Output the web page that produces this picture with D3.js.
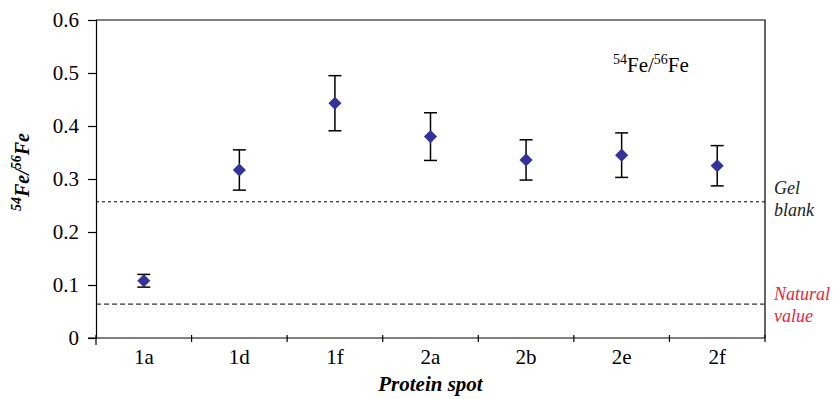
<!DOCTYPE html>
<html>
<head>
<meta charset="utf-8">
<script src="https://cdn.jsdelivr.net/npm/d3@7"></script>
<style>
  html, body { margin: 0; padding: 0; background: #fff; }
  svg { display: block; }
  text { font-family: "Liberation Serif", "Times New Roman", serif; }
</style>
</head>
<body>
<svg id="chart" width="833" height="399"></svg>
<script>
// Protein spots and their 54Fe/56Fe ratios with error half-widths
const spots = ["1a", "1d", "1f", "2a", "2b", "2e", "2f"];
const ratios = [0.108, 0.317, 0.443, 0.380, 0.336, 0.345, 0.325];
const errors = [0.012, 0.038, 0.052, 0.045, 0.038, 0.042, 0.038];
const yTicks = [0, 0.1, 0.2, 0.3, 0.4, 0.5, 0.6];
// Reference levels
const gelBlank = 0.257;
const naturalValue = 0.064;

const svg = d3.select("#chart");
const margin = { left: 96, right: 68, top: 20, bottom: 61 };
const W = 833, H = 399;
const x0 = margin.left, x1 = W - margin.right;
const y0 = H - margin.bottom, y1 = margin.top;
const serif = "'Liberation Serif', 'Times New Roman', serif";

const x = d3.scaleBand().domain(spots).range([x0, x1]).paddingInner(0).paddingOuter(0);
const y = d3.scaleLinear().domain([0, 0.6]).range([y0, y1]);

// Plot frame (top and right sides)
svg.append("path")
  .attr("d", `M${x0},${y1}H${x1}V${y0}`)
  .attr("fill", "none").attr("stroke", "#000").attr("stroke-width", 1.2);

// Reference lines
svg.append("line")
  .attr("x1", x0).attr("x2", x1)
  .attr("y1", y(gelBlank)).attr("y2", y(gelBlank))
  .attr("stroke", "#000").attr("stroke-width", 1)
  .attr("stroke-dasharray", "3,3");
svg.append("line")
  .attr("x1", x0).attr("x2", x1)
  .attr("y1", y(naturalValue)).attr("y2", y(naturalValue))
  .attr("stroke", "#333").attr("stroke-width", 1.2)
  .attr("stroke-dasharray", "5,3");

// Y axis
const yAxis = d3.axisLeft(y).tickValues(yTicks).tickSize(8).tickPadding(9)
  .tickFormat(d => d === 0 ? "0" : d3.format(".1f")(d));
const yg = svg.append("g").attr("transform", `translate(${x0},0)`).call(yAxis);
yg.attr("font-family", null);
yg.select(".domain").attr("stroke", "#000").attr("stroke-width", 1.2);
yg.selectAll(".tick line").attr("stroke", "#000").attr("stroke-width", 1.2);
yg.selectAll(".tick text").attr("font-size", 21).attr("fill", "#000")
  .style("font-family", serif);

// X axis: labels centred on bands, ticks at band boundaries
const xAxis = d3.axisBottom(x).tickSize(0).tickPadding(11);
const xg = svg.append("g").attr("transform", `translate(0,${y0})`).call(xAxis);
xg.attr("font-family", null);
xg.select(".domain").remove();
xg.selectAll(".tick text").attr("font-size", 21).attr("fill", "#000")
  .style("font-family", serif);
svg.append("line")
  .attr("x1", x0 - 8).attr("x2", x1).attr("y1", y0).attr("y2", y0)
  .attr("stroke", "#000").attr("stroke-width", 1.2);
const bounds = spots.map(s => x(s)).concat([x1]);
svg.append("g").selectAll("line").data(bounds).join("line")
  .attr("x1", d => d).attr("x2", d => d)
  .attr("y1", y0 - 3).attr("y2", (d, i) => i === 0 ? y0 + 7 : y0 + 4)
  .attr("stroke", "#000").attr("stroke-width", 1.2);

// Error bars
const cx = s => x(s) + x.bandwidth() / 2;
const eb = svg.append("g");
spots.forEach((s, i) => {
  const c = cx(s);
  const top = y(ratios[i] + errors[i]);
  const bot = y(ratios[i] - errors[i]);
  eb.append("line").attr("x1", c).attr("x2", c).attr("y1", top).attr("y2", bot)
    .attr("stroke", "#000").attr("stroke-width", 1.5);
  [top, bot].forEach(yy => eb.append("line")
    .attr("x1", c - 6.5).attr("x2", c + 6.5).attr("y1", yy).attr("y2", yy)
    .attr("stroke", "#000").attr("stroke-width", 1.5));
});

// Diamond markers
const diamond = d3.symbol().type(d3.symbolDiamond2).size(110);
svg.append("g").selectAll("path").data(spots).join("path")
  .attr("d", diamond)
  .attr("transform", (s, i) => `translate(${cx(s)},${y(ratios[i])})`)
  .attr("fill", "#333399");

// Series caption
const cap = svg.append("text").attr("x", 613).attr("y", 72).attr("font-size", 21).attr("fill", "#000");
cap.append("tspan").text("54").attr("font-size", 14).attr("dy", -8);
cap.append("tspan").text("Fe/").attr("dy", 8);
cap.append("tspan").text("56").attr("font-size", 14).attr("dy", -8);
cap.append("tspan").text("Fe").attr("dy", 8);

// Y axis title
const yt = svg.append("text")
  .attr("transform", `translate(29,172) rotate(-90)`)
  .attr("text-anchor", "middle")
  .attr("font-size", 20).attr("font-weight", "bold").attr("font-style", "italic").attr("fill", "#000");
yt.append("tspan").text("54").attr("font-size", 14).attr("dy", -8);
yt.append("tspan").text("Fe/").attr("dy", 8);
yt.append("tspan").text("56").attr("font-size", 14).attr("dy", -8);
yt.append("tspan").text("Fe").attr("dy", 8);

// X axis title
svg.append("text")
  .attr("x", (x0 + x1) / 2).attr("y", 391)
  .attr("text-anchor", "middle")
  .attr("font-size", 21).attr("font-weight", "bold").attr("font-style", "italic").attr("fill", "#000")
  .text("Protein spot");

// Reference line labels
const refLabel = (lines, yTop, color) => {
  const t = svg.append("text").attr("x", 774).attr("y", yTop)
    .attr("font-size", 18).attr("font-style", "italic").attr("fill", color)
    .style("font-family", serif);
  lines.forEach((l, i) => t.append("tspan").attr("x", 774).attr("dy", i === 0 ? 0 : 22).text(l));
};
refLabel(["Gel", "blank"], 194, "#222");
refLabel(["Natural", "value"], 300, "#e8243c");
</script>
</body>
</html>
